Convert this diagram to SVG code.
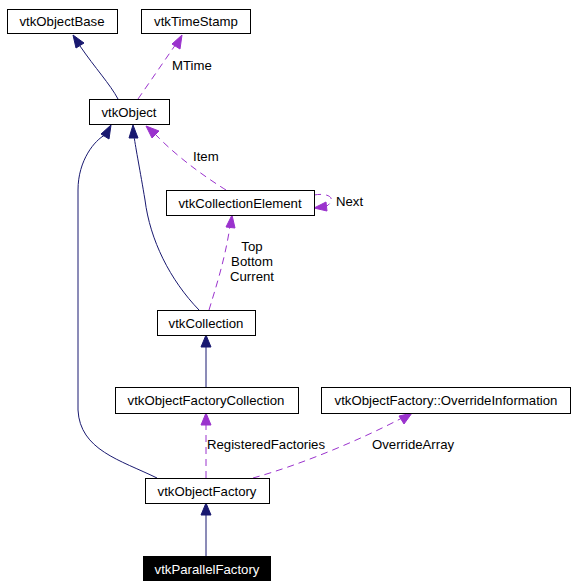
<svg xmlns="http://www.w3.org/2000/svg" width="576" height="588" viewBox="0 0 576 588">
<style>
.n rect{fill:#fff;stroke:#000;stroke-width:1}
text{font-family:"Liberation Sans",Arial,sans-serif;font-size:13.2px;fill:#000}
.n text{text-anchor:middle}
.inh{fill:none;stroke:#191970;stroke-width:1}
.use{fill:none;stroke:#9a32cd;stroke-width:1;stroke-dasharray:7,5}
.ah{fill:#191970;stroke:#191970}
.au{fill:#9a32cd;stroke:#9a32cd}
</style>
<rect width="576" height="588" fill="#fff"/>
<g id="edges">
<path class="inh" d="M118,99 C110,84 95,68 80,46"/>
<polygon class="ah" points="73,35 84,43 76,48"/>
<path class="use" d="M138,99 L176,44"/>
<polygon class="au" points="182,35 180,49 172,44"/>
<text x="172" y="70">MTime</text>
<path class="inh" d="M157,478 C120,460 80,450 78,410 L78,190 C78,160 95,140 105,135"/>
<polygon class="ah" points="111,125 109,139 101,134"/>
<path class="inh" d="M199,310 C170,280 150,240 145,200 C140,170 136,150 134,136"/>
<polygon class="ah" points="133,125 138,138 129,138"/>
<path class="use" d="M226,190 C210,180 180,160 155,134"/>
<polygon class="au" points="146,126 159,131 152,138"/>
<text x="193" y="161">Item</text>
<path class="use" d="M314,195 C325,193 335,196 330,203 C328,206 325,207 324,207"/>
<polygon class="au" points="314,208 326,202 327,211"/>
<text x="336" y="206">Next</text>
<path class="use" d="M209,310 C215,290 225,260 230,226"/>
<polygon class="au" points="232,215 235,228 226,227"/>
<g text-anchor="middle">
<text x="252" y="251">Top</text>
<text x="252" y="266">Bottom</text>
<text x="252" y="281">Current</text>
</g>
<path class="inh" d="M206,387 L206,346"/>
<polygon class="ah" points="206,335 211,347 201,347"/>
<path class="use" d="M206,478 L206,424"/>
<polygon class="au" points="206,413 211,425 201,425"/>
<text x="207" y="449">RegisteredFactories</text>
<path class="use" d="M253,478 C300,465 360,440 402,418"/>
<polygon class="au" points="412,413 404,424 399,416"/>
<text x="372" y="449">OverrideArray</text>
<path class="inh" d="M206,556 L206,514"/>
<polygon class="ah" points="206,503 211,515 201,515"/>
</g>
<g id="vtkObjectBase" class="n"><rect x="7.5" y="9.5" width="110" height="24"/><text x="62" y="26">vtkObjectBase</text></g>
<g id="vtkTimeStamp" class="n"><rect x="141.5" y="9.5" width="109" height="24"/><text x="196" y="26">vtkTimeStamp</text></g>
<g id="vtkObject" class="n"><rect x="89.5" y="99.5" width="80" height="25"/><text x="129" y="117">vtkObject</text></g>
<g id="vtkCollectionElement" class="n"><rect x="166.5" y="190.5" width="148" height="25"/><text x="240" y="208">vtkCollectionElement</text></g>
<g id="vtkCollection" class="n"><rect x="157.5" y="310.5" width="98" height="25"/><text x="206" y="328">vtkCollection</text></g>
<g id="vtkObjectFactoryCollection" class="n"><rect x="115.5" y="387.5" width="183" height="26"/><text x="206" y="405">vtkObjectFactoryCollection</text></g>
<g id="vtkObjectFactory_OverrideInformation" class="n"><rect x="321.5" y="387.5" width="249" height="26"/><text x="446" y="405">vtkObjectFactory::OverrideInformation</text></g>
<g id="vtkObjectFactory" class="n"><rect x="145.5" y="478.5" width="124" height="25"/><text x="207" y="496">vtkObjectFactory</text></g>
<g id="vtkParallelFactory"><rect x="143" y="556" width="128" height="25" fill="#000"/><text x="207" y="574" text-anchor="middle" style="fill:#fff">vtkParallelFactory</text></g>
</svg>
